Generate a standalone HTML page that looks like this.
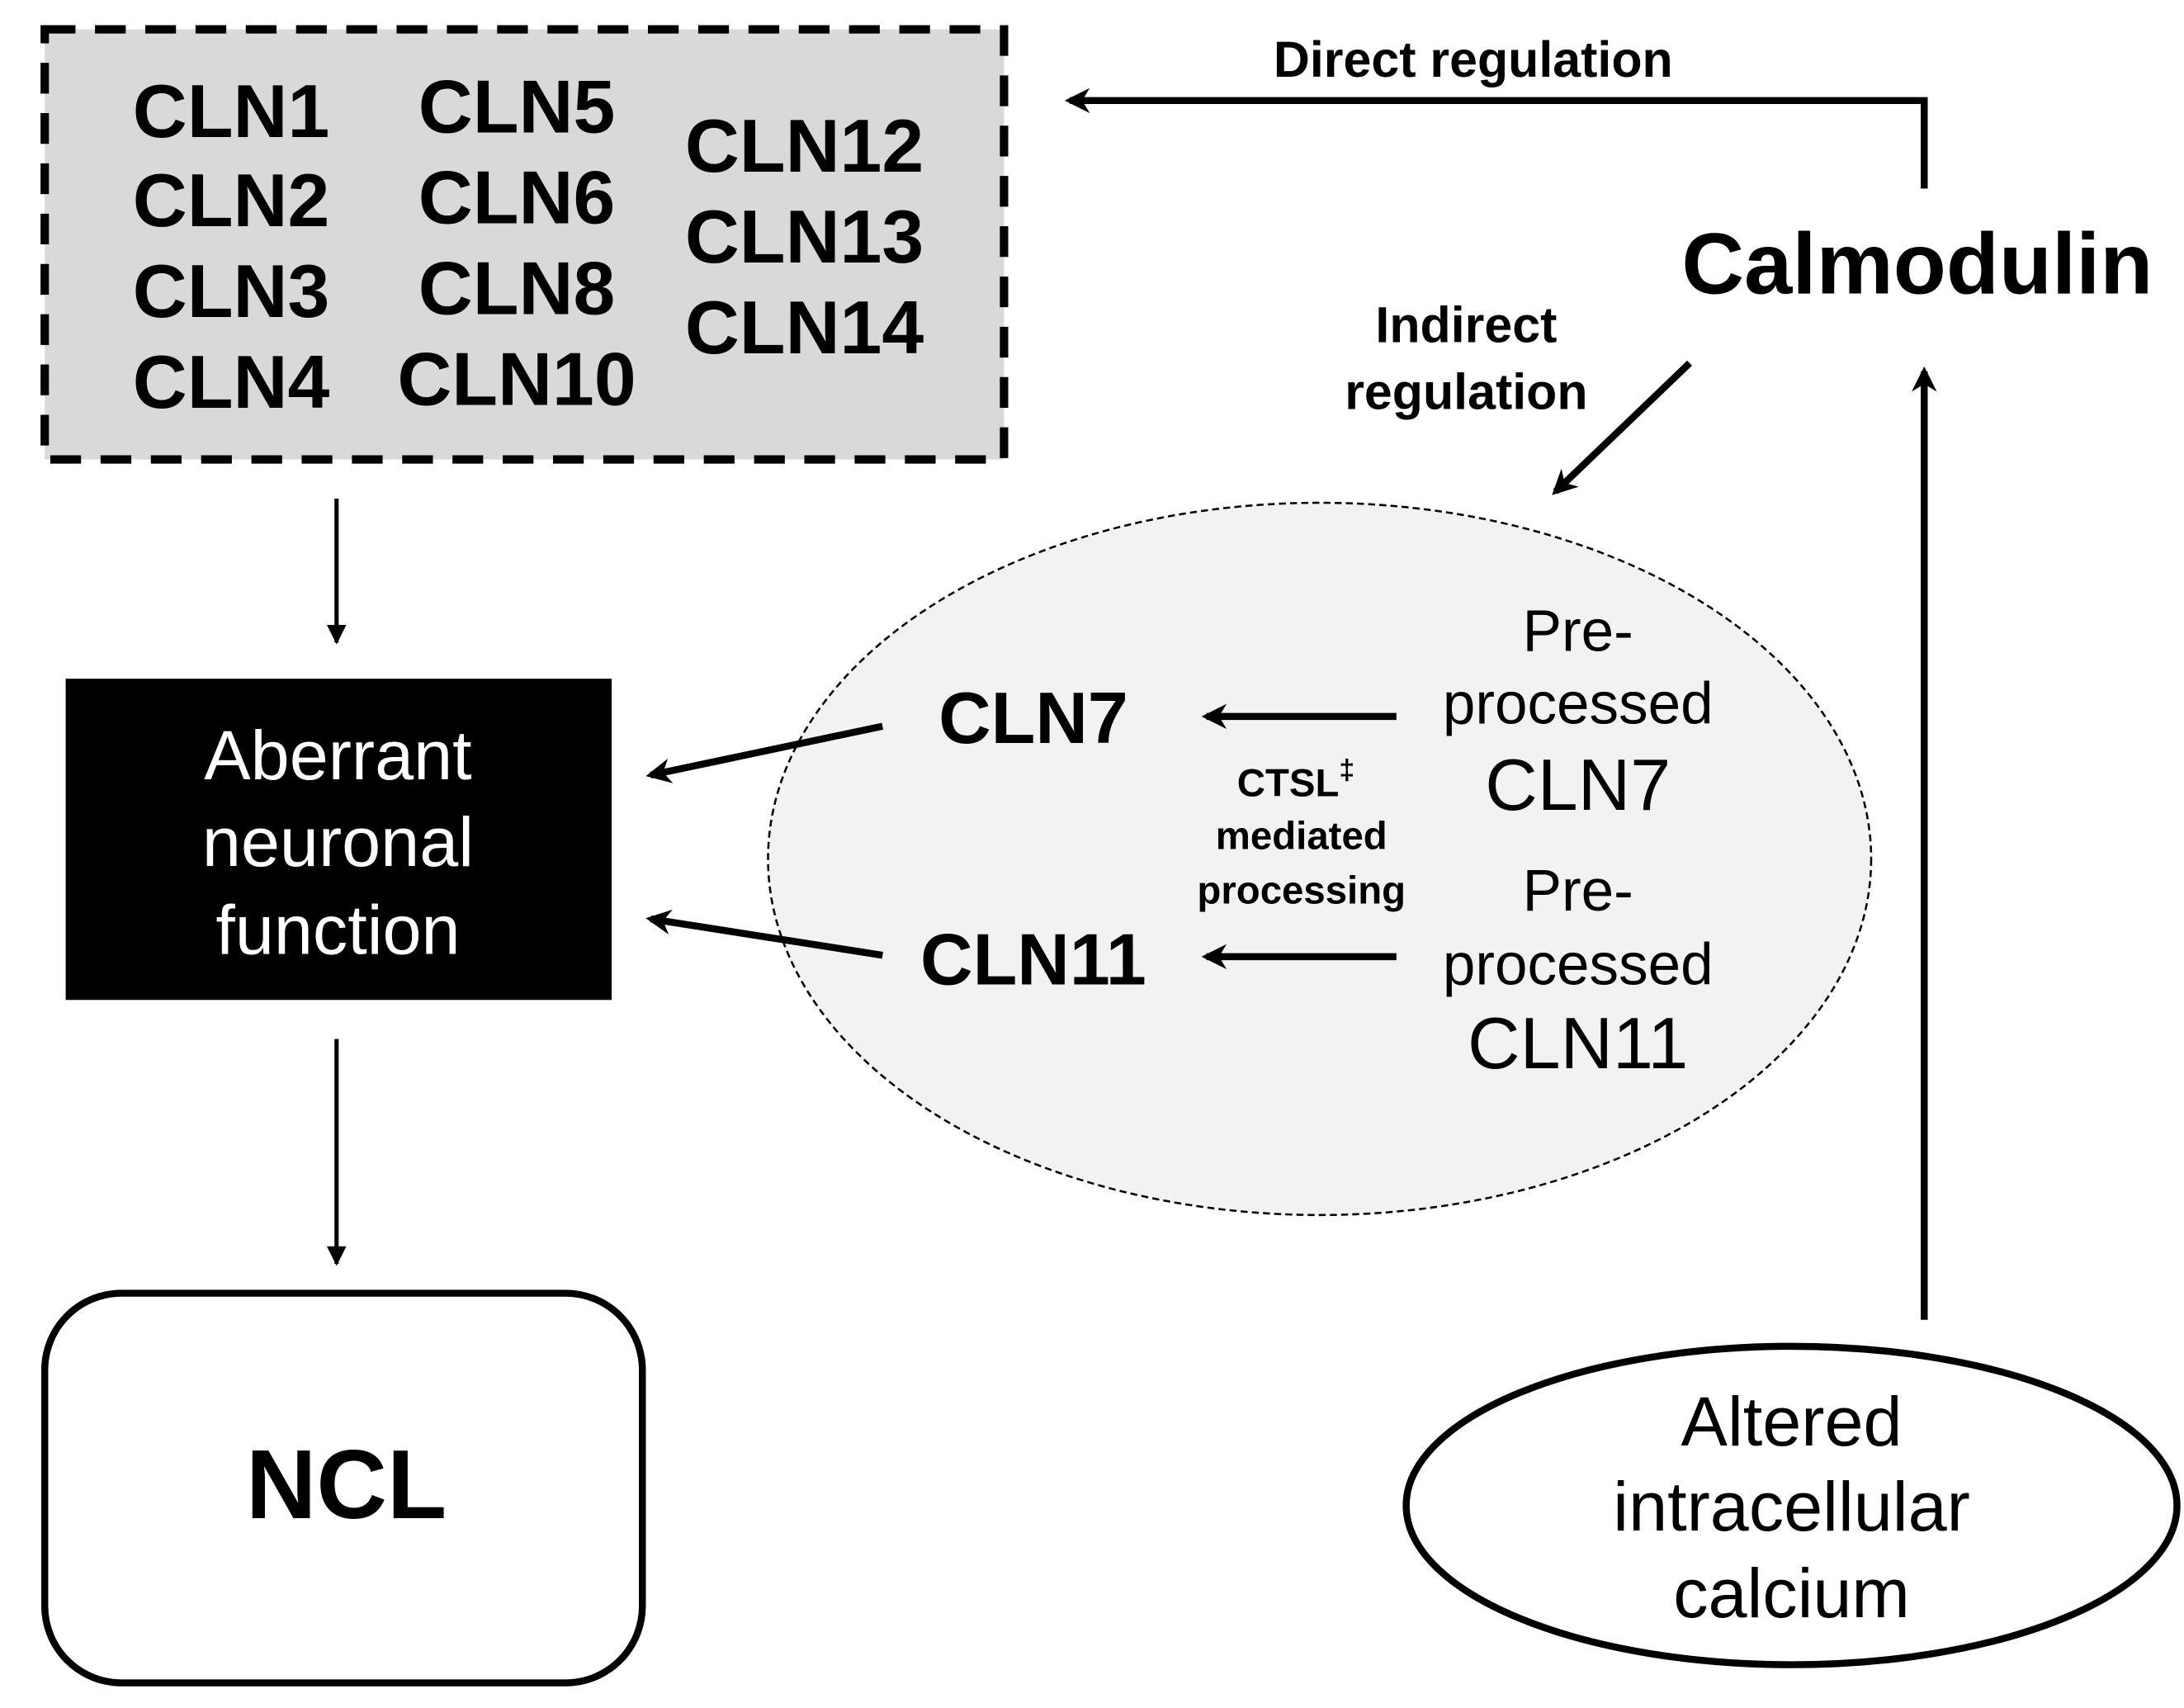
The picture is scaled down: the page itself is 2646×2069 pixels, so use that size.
<!DOCTYPE html>
<html><head><meta charset="utf-8"><style>html,body{margin:0;padding:0;background:#fff}svg{display:block}text{font-family:"Liberation Sans",Arial,sans-serif}</style></head>
<body>
<svg width="2646" height="2069" viewBox="0 0 1564 1223" xmlns="http://www.w3.org/2000/svg" font-family="'Liberation Sans', Arial, sans-serif">
<defs>
<marker id="a" viewBox="0 0 10 10" refX="9" refY="5" markerWidth="14" markerHeight="14" orient="auto" markerUnits="userSpaceOnUse"><path d="M0,0 L10,5 L0,10 z" fill="#000"/></marker>
<marker id="b" viewBox="0 0 10 10" refX="8" refY="5" markerWidth="22" markerHeight="18" orient="auto" markerUnits="userSpaceOnUse"><path d="M0,0 L10,5 L0,10 L3,5 z" fill="#000"/></marker>
</defs>
<rect x="32" y="21" width="687" height="308" fill="#d9d9d9" stroke="#000" stroke-width="6" stroke-dasharray="22,14"/>
<g font-weight="bold" font-size="54" fill="#000">
<text x="95" y="98">CLN1</text><text x="95" y="162">CLN2</text><text x="95" y="227">CLN3</text><text x="95" y="292">CLN4</text>
<g text-anchor="middle"><text x="370" y="95">CLN5</text><text x="370" y="160">CLN6</text><text x="370" y="225">CLN8</text><text x="370" y="290">CLN10</text>
<text x="576" y="123">CLN12</text><text x="576" y="188">CLN13</text><text x="576" y="253">CLN14</text></g>
</g>
<text x="1055" y="55" text-anchor="middle" font-weight="bold" font-size="36">Direct regulation</text>
<polyline points="1378,135 1378,72 766,72" fill="none" stroke="#000" stroke-width="5" marker-end="url(#b)"/>
<text x="1373" y="210" text-anchor="middle" font-weight="bold" font-size="62">Calmodulin</text>
<text x="1050" y="245" text-anchor="middle" font-weight="bold" font-size="36">Indirect</text>
<text x="1050" y="293" text-anchor="middle" font-weight="bold" font-size="36">regulation</text>
<line x1="1210" y1="260" x2="1114" y2="352" stroke="#000" stroke-width="5" marker-end="url(#b)"/>
<line x1="1378" y1="945" x2="1378" y2="266" stroke="#000" stroke-width="5" marker-end="url(#b)"/>
<ellipse cx="945" cy="615" rx="395" ry="255" fill="#f2f2f2" stroke="#000" stroke-width="1.5" stroke-dasharray="5,3"/>
<text x="740" y="532" text-anchor="middle" font-weight="bold" font-size="52">CLN7</text>
<text x="740" y="705" text-anchor="middle" font-weight="bold" font-size="52">CLN11</text>
<line x1="1000" y1="513" x2="864" y2="513" stroke="#000" stroke-width="5" marker-end="url(#b)"/>
<line x1="1000" y1="685" x2="864" y2="685" stroke="#000" stroke-width="5" marker-end="url(#b)"/>
<g text-anchor="middle" font-weight="bold" font-size="28"><text x="928" y="570">CTSL<tspan font-size="20" dy="-12">‡</tspan></text><text x="932" y="608">mediated</text><text x="932" y="647">processing</text></g>
<g text-anchor="middle" font-size="42"><text x="1130" y="466">Pre-</text><text x="1130" y="518">processed</text><text x="1130" y="580" font-size="52">CLN7</text>
<text x="1130" y="652">Pre-</text><text x="1130" y="705">processed</text><text x="1130" y="765" font-size="52">CLN11</text></g>
<rect x="47" y="486" width="391" height="230" fill="#000"/>
<g text-anchor="middle" font-size="50" fill="#fff"><text x="242" y="558">Aberrant</text><text x="242" y="620">neuronal</text><text x="242" y="683">function</text></g>
<line x1="632" y1="520" x2="466" y2="555" stroke="#000" stroke-width="5" marker-end="url(#b)"/>
<line x1="632" y1="684" x2="466" y2="658" stroke="#000" stroke-width="5" marker-end="url(#b)"/>
<line x1="241" y1="357" x2="241" y2="460" stroke="#000" stroke-width="3" marker-end="url(#a)"/>
<line x1="241" y1="744" x2="241" y2="905" stroke="#000" stroke-width="3" marker-end="url(#a)"/>
<rect x="32" y="926" width="428" height="279" rx="55" fill="#fff" stroke="#000" stroke-width="5"/>
<text x="248" y="1087" text-anchor="middle" font-weight="bold" font-size="70">NCL</text>
<ellipse cx="1283" cy="1078" rx="276" ry="114" fill="#fff" stroke="#000" stroke-width="5"/>
<g text-anchor="middle" font-size="50"><text x="1283" y="1035">Altered</text><text x="1283" y="1096">intracellular</text><text x="1283" y="1158">calcium</text></g>
</svg>
</body></html>
